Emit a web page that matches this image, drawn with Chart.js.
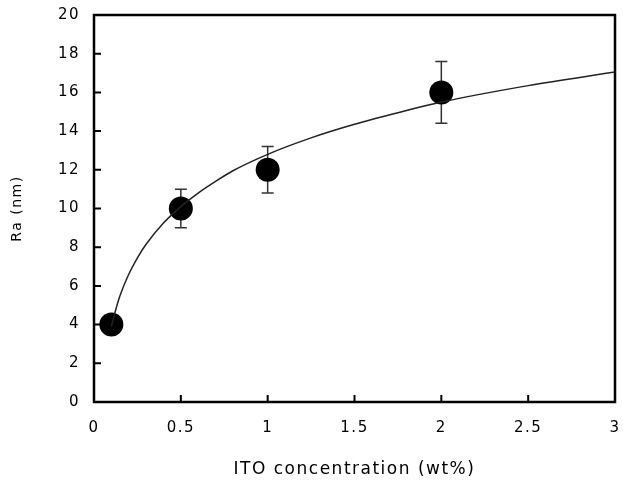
<!DOCTYPE html>
<html>
<head>
<meta charset="utf-8">
<script src="https://cdn.jsdelivr.net/npm/chart.js@4.4.1/dist/chart.umd.min.js"></script>
<style>
  html, body { margin: 0; padding: 0; background: #fff; }
  canvas { display: block; }
</style>
</head>
<body>
<canvas id="c" width="623" height="484"></canvas>
<script>
// Measured points (ITO concentration wt%, Ra nm) and error half-widths
const itoConc = [0.1, 0.5, 1, 2];
const raValues = [4, 10, 12, 16];
const raErrors = [0, 1.0, 1.2, 1.6];

// Fitted curve
const fitX = [0.1, 0.12, 0.15, 0.2, 0.25, 0.3, 0.4, 0.5, 0.6, 0.7, 0.8, 1.0, 1.25, 1.5, 1.75, 2.0, 2.5, 3.0];
const fitY = [3.9, 4.6, 5.5, 6.6, 7.45, 8.15, 9.25, 10.1, 10.8, 11.4, 11.95, 12.8, 13.65, 14.35, 14.95, 15.5, 16.35, 17.05];

// Axis ticks
const xTicks = [0, 0.5, 1, 1.5, 2, 2.5, 3];
const yTicks = [0, 2, 4, 6, 8, 10, 12, 14, 16, 18, 20];

const xLabel = 'ITO concentration (wt%)';
const yLabel = 'Ra (nm)';

const RIGHT_GAP = 8;

const errorBarPlugin = {
  id: 'errorBars',
  beforeDatasetsDraw(chart) {
    const ctx = chart.ctx, xs = chart.scales.x, ys = chart.scales.y;
    ctx.save();
    ctx.strokeStyle = '#333';
    ctx.lineWidth = 1.5;
    for (let i = 0; i < itoConc.length; i++) {
      if (!raErrors[i]) continue;
      const px = xs.getPixelForValue(itoConc[i]);
      const top = ys.getPixelForValue(raValues[i] + raErrors[i]);
      const bot = ys.getPixelForValue(raValues[i] - raErrors[i]);
      ctx.beginPath();
      ctx.moveTo(px, top); ctx.lineTo(px, bot);
      ctx.moveTo(px - 6, top); ctx.lineTo(px + 6, top);
      ctx.moveTo(px - 6, bot); ctx.lineTo(px + 6, bot);
      ctx.stroke();
    }
    ctx.restore();
  }
};

const frameTicksPlugin = {
  id: 'frameTicks',
  beforeLayout(chart) { chart.ctx.letterSpacing = '1.5px'; },
  afterLayout(chart) {
    const a = chart.chartArea, xs = chart.scales.x;
    a.right = chart.width - RIGHT_GAP;
    a.width = a.right - a.left;
    xs.right = a.right;
    xs.width = xs.right - xs.left;
    xs.configure();
  },
  beforeDraw(chart) { chart.ctx.letterSpacing = '1.5px'; },
  afterDraw(chart) {
    const ctx = chart.ctx, a = chart.chartArea, xs = chart.scales.x, ys = chart.scales.y;
    ctx.save();
    ctx.strokeStyle = '#000';
    ctx.lineWidth = 2;
    ctx.beginPath();
    xTicks.forEach(v => {
      if (v === xs.min || v === xs.max) return;
      const p = xs.getPixelForValue(v);
      ctx.moveTo(p, a.bottom); ctx.lineTo(p, a.bottom - 7);
    });
    yTicks.forEach(v => {
      if (v === ys.min || v === ys.max) return;
      const p = ys.getPixelForValue(v);
      ctx.moveTo(a.left, p); ctx.lineTo(a.left + 7, p);
    });
    ctx.stroke();
    ctx.lineWidth = 2.5;
    ctx.strokeRect(a.left, a.top, a.right - a.left, a.bottom - a.top);
    ctx.restore();
  }
};

new Chart(document.getElementById('c'), {
  type: 'scatter',
  data: {
    datasets: [
      {
        type: 'line',
        data: fitX.map((x, i) => ({ x, y: fitY[i] })),
        borderColor: '#222',
        borderWidth: 1.5,
        pointRadius: 0,
        fill: false,
        cubicInterpolationMode: 'monotone'
      },
      {
        data: itoConc.map((x, i) => ({ x, y: raValues[i] })),
        backgroundColor: '#000',
        borderColor: '#000',
        borderWidth: 0,
        pointRadius: 12,
        pointHoverRadius: 12
      }
    ]
  },
  options: {
    responsive: false,
    animation: false,
    devicePixelRatio: 1,
    events: [],
    layout: { padding: { top: 15, right: 8, left: 0, bottom: 0 } },
    plugins: { legend: { display: false }, tooltip: { enabled: false } },
    scales: {
      x: {
        type: 'linear', min: 0, max: 3,
        afterBuildTicks: s => { s.ticks = xTicks.map(v => ({ value: v })); },
        afterFit: s => { s.height = 82; },
        grid: { display: false, drawTicks: false },
        border: { display: false },
        ticks: { color: '#000', padding: 17, font: { family: 'DejaVu Sans', size: 15 }, maxRotation: 0, callback: v => String(v) },
        title: { display: true, text: xLabel, color: '#000', font: { family: 'DejaVu Sans', size: 17 }, padding: { top: 0, bottom: 4 } }
      },
      y: {
        type: 'linear', min: 0, max: 20,
        afterBuildTicks: s => { s.ticks = yTicks.map(v => ({ value: v })); },
        afterFit: s => { s.width = 94; s.paddingTop = 0; s.paddingBottom = 0; },
        grid: { display: false, drawTicks: false },
        border: { display: false },
        ticks: { color: '#000', padding: 14, font: { family: 'DejaVu Sans', size: 15 }, callback: v => String(v) },
        title: { display: true, text: yLabel, color: '#000', font: { family: 'DejaVu Sans', size: 14 }, padding: { top: 9, bottom: 0 } }
      }
    }
  },
  plugins: [errorBarPlugin, frameTicksPlugin]
});
</script>
</body>
</html>
